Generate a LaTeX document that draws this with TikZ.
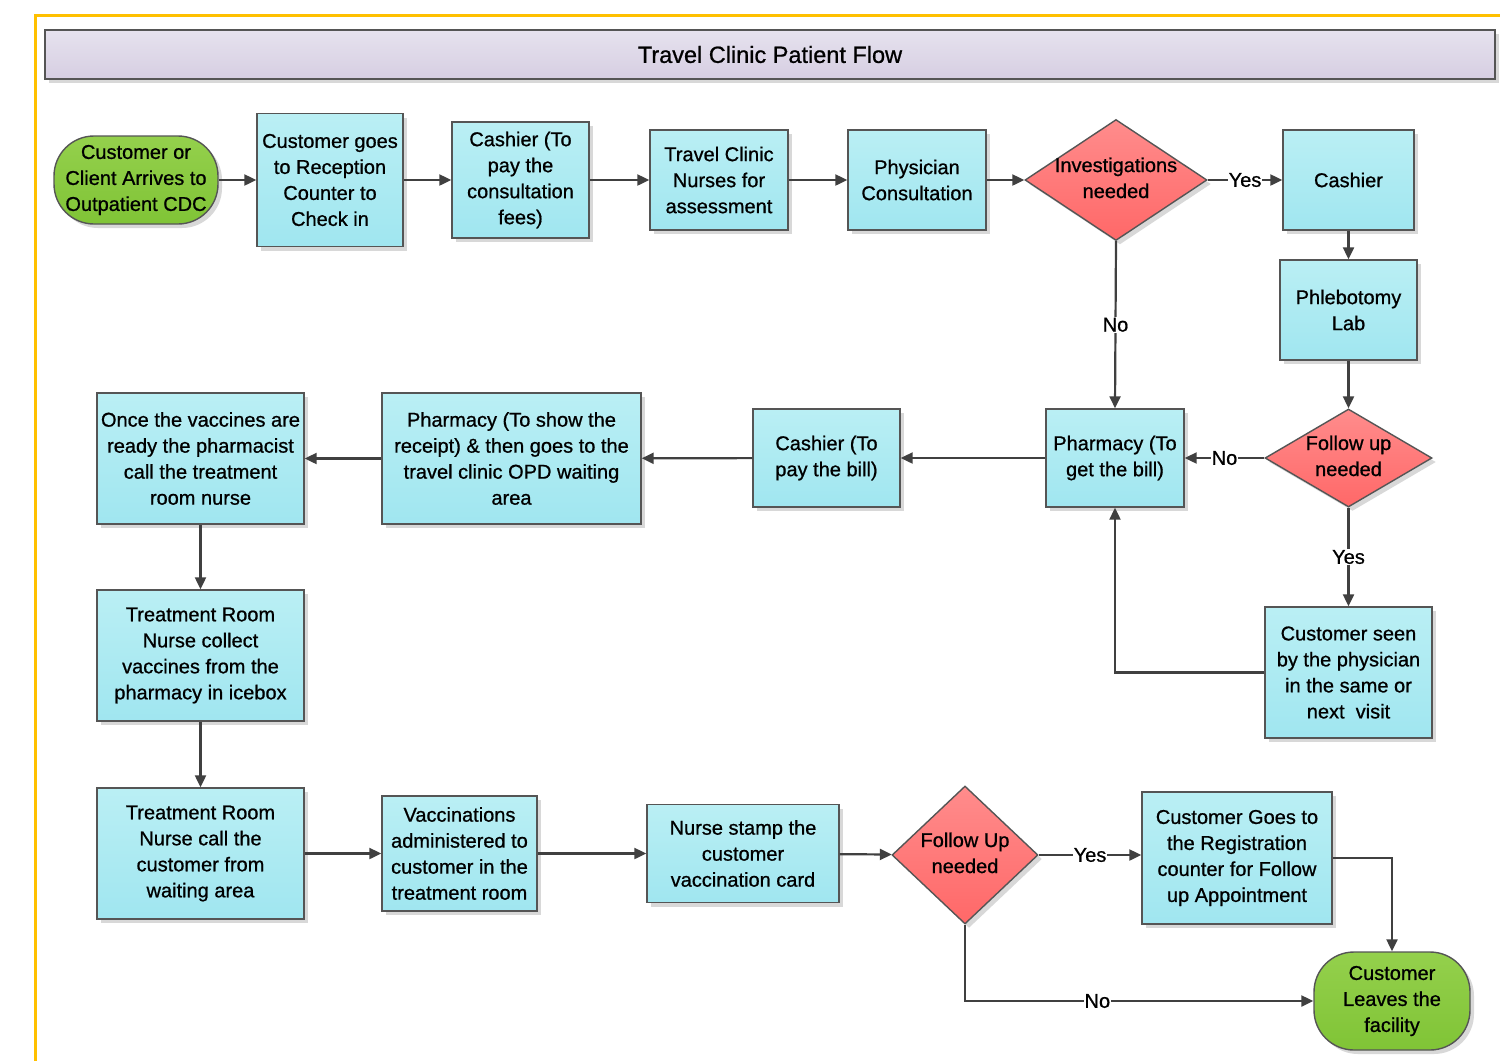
\documentclass[tikz,border=0pt]{standalone}
\usepackage{fontspec}
\setmainfont[FakeBold=0.8]{Liberation Sans}
\usetikzlibrary{shapes.geometric,shadows,arrows.meta}
\definecolor{boxtop}{RGB}{186,239,244}
\definecolor{boxbot}{RGB}{160,230,240}
\definecolor{redtop}{RGB}{255,140,140}
\definecolor{redbot}{RGB}{255,104,104}
\definecolor{grtop}{RGB}{148,208,76}
\definecolor{grbot}{RGB}{128,196,54}
\definecolor{ttop}{RGB}{230,226,238}
\definecolor{tbot}{RGB}{214,206,226}
\definecolor{edgec}{RGB}{64,64,64}
\definecolor{bordc}{RGB}{85,85,85}
\definecolor{frame}{RGB}{255,192,0}
\newcommand\dtxt[1]{\makebox[0pt]{\smash{\raisebox{-5pt}{\begin{tabular}{@{}c@{}}#1\end{tabular}}}}}
\begin{document}
\begin{tikzpicture}[x=1pt,y=-1pt,
  every node/.style={font=\fontsize{20}{26}\selectfont, text=black},
  sh/.style={drop shadow={shadow xshift=4pt,shadow yshift=-4pt,fill=black!30,opacity=0.5}},
  pbox/.style={draw=bordc, line width=1.4pt, rectangle, inner sep=0pt, align=center, top color=boxtop, bottom color=boxbot, sh},
  dia/.style={draw=bordc, line width=1.4pt, diamond, inner sep=0pt, top color=redtop, bottom color=redbot, sh},
  term/.style={draw=bordc, line width=1.4pt, rectangle, rounded corners=40pt, inner sep=0pt, align=center, top color=grtop, bottom color=grbot, sh},
  arr/.style={draw=edgec, line width=2.2pt, -{Triangle[length=12pt,width=11pt]}},
  lab/.style={fill=white, inner sep=1pt}
]
\useasboundingbox (0,0) rectangle (1500,1061);
\fill[white] (0,0) rectangle (1500,1061);
% frame
\draw[frame, line width=3pt] (1500,15) -- (35,15) -- (35,1061);
% title
\node[draw=bordc, line width=1.6pt, rectangle, minimum width=1450pt, minimum height=49pt, top color=ttop, bottom color=tbot, sh, font=\fontsize{23.5}{26}\selectfont] (title) at (770,54.5) {Travel Clinic Patient Flow};

% row 1
\node[term, minimum width=164pt, minimum height=88pt] (start) at (136,180) {Customer or\\Client Arrives to\\Outpatient CDC};
\node[pbox, minimum width=146pt, minimum height=133pt] (rec) at (330,180) {Customer goes\\to Reception\\Counter to\\Check in};
\node[pbox, minimum width=137pt, minimum height=116pt] (cash1) at (520.5,180) {Cashier (To\\pay the\\consultation\\fees)};
\node[pbox, minimum width=138pt, minimum height=100pt] (nurse) at (719,180) {Travel Clinic\\Nurses for\\assessment};
\node[pbox, minimum width=138pt, minimum height=100pt] (phys) at (917,180) {Physician\\Consultation};
\node[dia, minimum width=182pt, minimum height=121pt] (inv) at (1116,180) {\dtxt{Investigations\\needed}};
\node[pbox, minimum width=131pt, minimum height=100pt] (cash2) at (1348.5,180) {Cashier};
\node[pbox, minimum width=137pt, minimum height=100pt] (phleb) at (1348.5,310) {Phlebotomy\\Lab};

% row 2
\node[dia, minimum width=167pt, minimum height=98pt] (fu) at (1348.5,458) {\dtxt{Follow up\\needed}};
\node[pbox, minimum width=138pt, minimum height=98pt] (pb) at (1115,458) {Pharmacy (To\\get the bill)};
\node[pbox, minimum width=147pt, minimum height=98pt] (cb) at (826.5,458) {Cashier (To\\pay the bill)};
\node[pbox, minimum width=259pt, minimum height=131pt] (ps) at (511.5,458.5) {Pharmacy (To show the\\receipt) \& then goes to the\\travel clinic OPD waiting\\area};
\node[pbox, minimum width=207pt, minimum height=131pt] (once) at (200.5,458.5) {Once the vaccines are\\ready the pharmacist\\call the treatment\\room nurse};
\node[pbox, minimum width=167pt, minimum height=131pt] (seen) at (1348.5,672.5) {Customer seen\\by the physician\\in the same or\\next\ \ visit};

% left column
\node[pbox, minimum width=207pt, minimum height=131pt] (tcol) at (200.5,655.5) {Treatment Room\\Nurse collect\\vaccines from the\\pharmacy in icebox};
\node[pbox, minimum width=207pt, minimum height=131pt] (tcall) at (200.5,853.5) {Treatment Room\\Nurse call the\\customer from\\waiting area};

% bottom row
\node[pbox, minimum width=155pt, minimum height=115pt] (vacc) at (459.5,853.5) {Vaccinations\\administered to\\customer in the\\treatment room};
\node[pbox, minimum width=192pt, minimum height=98pt] (stamp) at (743,853.5) {Nurse stamp the\\customer\\vaccination card};
\node[dia, minimum width=146pt, minimum height=138pt] (fu2) at (965,855) {\dtxt{Follow Up\\needed}};
\node[pbox, minimum width=190pt, minimum height=132pt] (reg) at (1237,858) {Customer Goes to\\the Registration\\counter for Follow\\up Appointment};
\node[term, minimum width=156pt, minimum height=98pt] (end) at (1392,1001) {Customer\\Leaves the\\facility};

% edges
\draw[arr] (start) -- (rec);
\draw[arr] (rec) -- (cash1);
\draw[arr] (cash1) -- (nurse);
\draw[arr] (nurse) -- (phys);
\draw[arr] (phys) -- (inv);
\draw[arr] (inv.east) -- node[lab]{Yes} (cash2.west);
\draw[arr] (cash2) -- (phleb);
\draw[arr] (phleb) -- (fu);
\draw[arr] (inv.south) -- node[lab]{No} (pb.north);
\draw[arr] (fu.west) -- node[lab]{No} (pb.east);
\draw[arr] (fu.south) -- node[lab]{Yes} (seen.north);
\draw[arr] (seen.west) -| (pb.south);
\draw[arr] (pb) -- (cb);
\draw[arr] (cb) -- (ps);
\draw[arr] (ps) -- (once);
\draw[arr] (once) -- (tcol);
\draw[arr] (tcol) -- (tcall);
\draw[arr] (tcall) -- (vacc);
\draw[arr] (vacc) -- (stamp);
\draw[arr] (stamp) -- (fu2);
\draw[arr] (fu2.east) -- node[lab]{Yes} (fu2.east -| reg.west);
\draw[arr] (reg.east) -| (end.north);
\draw[arr] (fu2.south) |- node[lab, pos=0.69]{No} (end.west);
\end{tikzpicture}
\end{document}
